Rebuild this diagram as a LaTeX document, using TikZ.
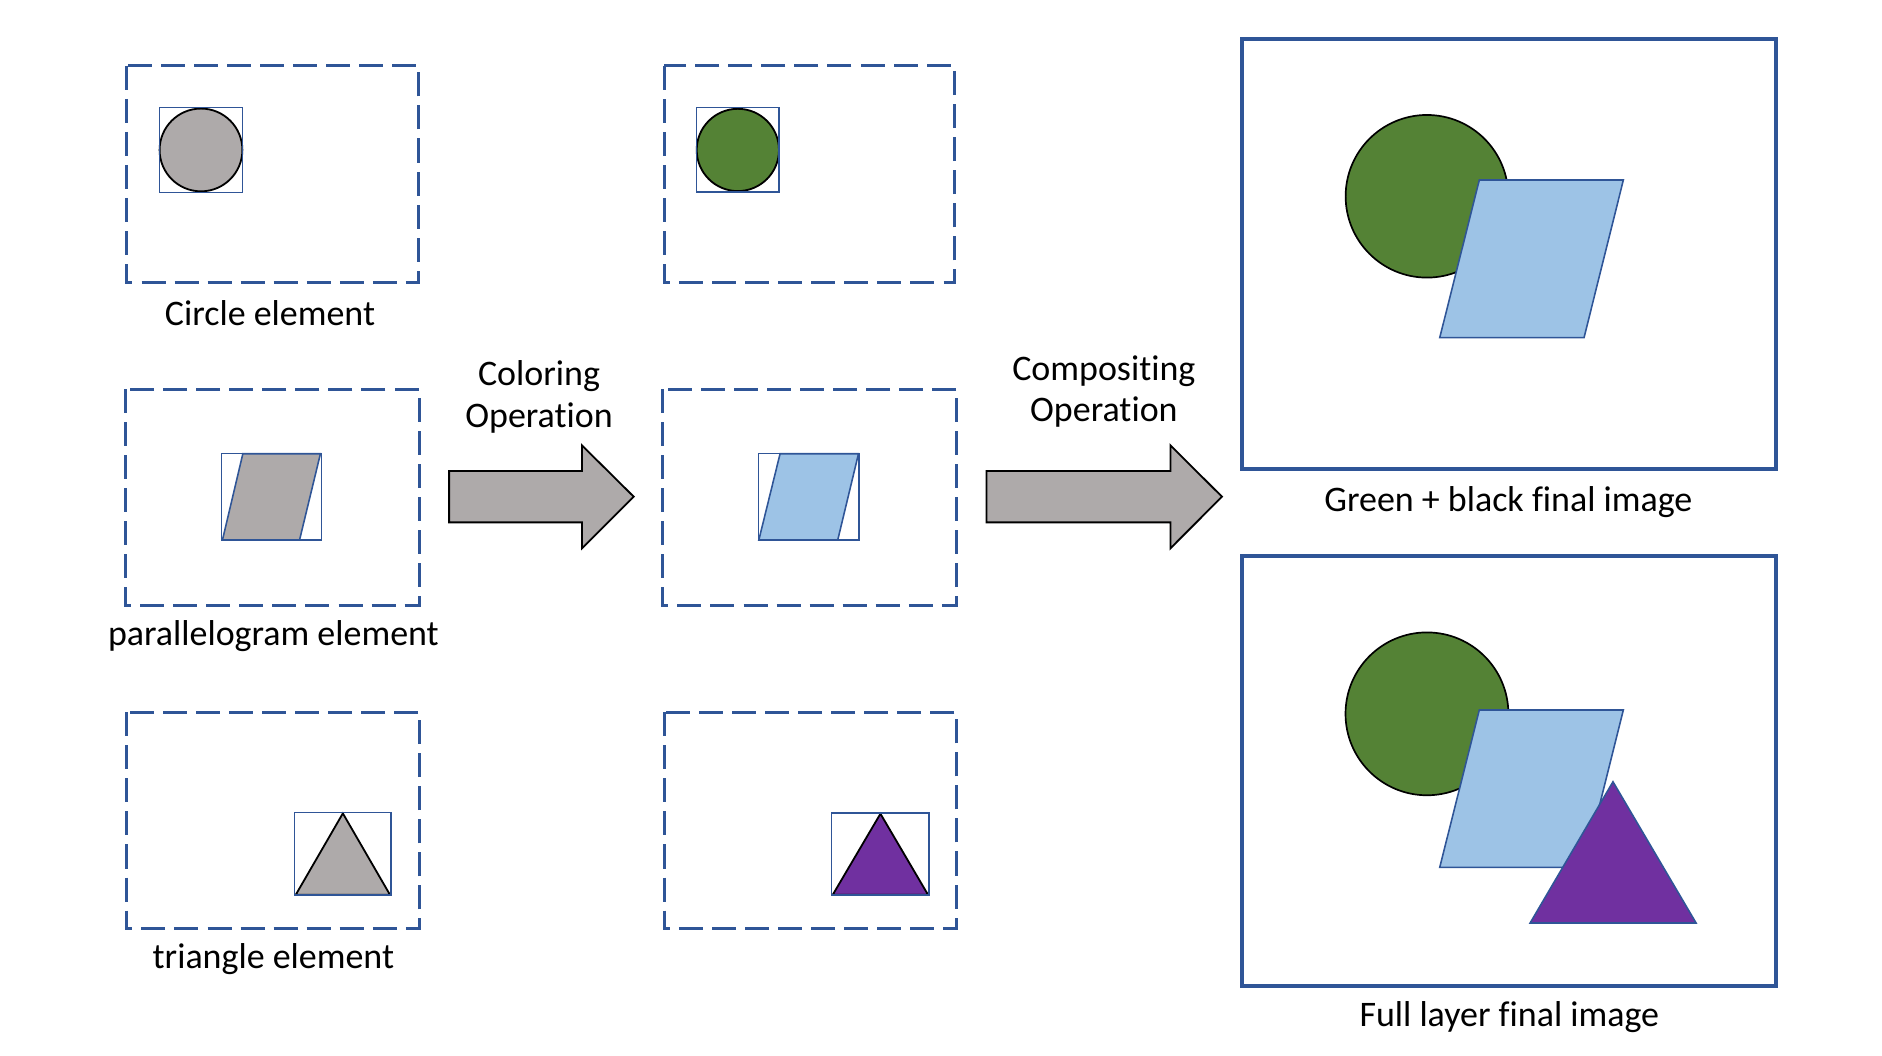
\documentclass[tikz,border=0pt]{standalone}
\usepackage{fontspec}
\setmainfont{Carlito}[Ligatures={NoCommon,NoRare},Contextuals=NoAlternate]
\definecolor{bl}{RGB}{47,85,151}
\definecolor{grayf}{RGB}{174,170,170}
\definecolor{greenf}{RGB}{84,130,53}
\definecolor{lbluef}{RGB}{157,195,230}
\definecolor{purplef}{RGB}{112,48,160}
\begin{document}
\begin{tikzpicture}[x=1pt,y=-1pt,
  dbox/.style={draw=bl, line width=2.5pt, dash pattern=on 19.9pt off 7.5pt},
  sbox/.style={draw=bl, line width=1.2pt},
  bigframe/.style={draw=bl, line width=3.3pt},
  lbl/.style={anchor=base, font=\fontsize{29.8}{34.5}\selectfont, inner sep=0pt},
  barrow/.style={draw=black, fill=grayf, line width=1.5pt, line join=miter},
  circ/.style={draw=black, line width=1.5pt},
  para/.style={draw=bl, line width=1.3pt, line join=miter},
  tri/.style={draw=black, line width=1.5pt, line join=miter}]
\useasboundingbox (0,0) rectangle (1560,874.5);

% ---------- left column ----------
\draw[dbox] (105,54.5) rectangle (346.8,234);
\draw[circ, fill=grayf] (166.6,124.3) circle (34.3);
\draw[sbox] (132.4,89.3) rectangle (200.9,159.4);
\node[lbl] (lc1) at (223.8,270) {Circle element};

\draw[dbox] (103.7,322.5) rectangle (347.4,501.8);
\draw[para, fill=grayf] (201.3,376.1) -- (265.6,376.1) -- (248.3,447.6) -- (184.4,447.6) -- cycle;
\draw[sbox] (183.8,376.1) rectangle (266.5,447.6);
\node[lbl] (lc2) at (226.6,534.7) {parallelogram element};

\draw[dbox] (105,590.4) rectangle (347.6,770);
\draw[tri, fill=grayf] (284.2,674.2) -- (323.2,741.6) -- (245.2,741.6) -- cycle;
\draw[sbox] (244.3,673.6) rectangle (324.1,741.9);
\node[lbl] (lc3) at (226.6,802.6) {triangle element};

% ---------- coloring arrow ----------
\draw[barrow] (372.3,390.4) -- (482.4,390.4) -- (482.4,369.2) -- (525.3,411.7)
  -- (482.4,454.5) -- (482.4,433) -- (372.3,433) -- cycle;
\node[lbl] (co1) at (446.8,319.7) {Coloring};
\node[lbl] (co2) at (446.8,354.2) {Operation};

% ---------- middle column ----------
\draw[dbox] (550.4,54.7) rectangle (791.3,234);
\draw[circ, fill=greenf] (611.6,124.3) circle (34.1);
\draw[sbox] (577.5,89.3) rectangle (645.7,159.2);

\draw[dbox] (549,322.5) rectangle (792.9,501.8);
\draw[para, fill=lbluef] (646.6,376.1) -- (711.6,376.1) -- (694.4,447.6) -- (629,447.6) -- cycle;
\draw[sbox] (628.7,376.1) rectangle (712.2,447.6);

\draw[dbox] (550.4,590.4) rectangle (792.7,769.8);
\draw[tri, fill=purplef] (729.8,674.5) -- (769.2,741.6) -- (690.3,741.6) -- cycle;
\draw[sbox] (689.4,673.9) rectangle (770.1,741.9);

% ---------- compositing arrow ----------
\draw[barrow] (817.7,390.4) -- (970.2,390.4) -- (970.2,369.2) -- (1012.9,411.7)
  -- (970.2,454.5) -- (970.2,433) -- (817.7,433) -- cycle;
\node[lbl] (cp1) at (915,315) {Compositing};
\node[lbl] (cp2) at (915,349.5) {Operation};

% ---------- final images ----------
\draw[bigframe] (1029.8,32.3) rectangle (1472.2,388.5);
\draw[circ, fill=greenf, line width=1.4pt] (1182.8,162.7) circle (67.4);
\draw[para, fill=lbluef] (1226.2,149.2) -- (1345.6,149.2) -- (1313,279.9) -- (1193.4,279.9) -- cycle;
\node[lbl] (f1) at (1250.3,424.1) {Green + black final image};

\draw[bigframe] (1029.8,460.6) rectangle (1472.2,817);
\draw[circ, fill=greenf, line width=1.4pt] (1182.8,591.7) circle (67.5);
\draw[para, fill=lbluef] (1226.2,588.5) -- (1345.6,588.5) -- (1313,718.9) -- (1193.4,718.9) -- cycle;
\draw[para, fill=purplef] (1337,648) -- (1405.9,765.1) -- (1268.3,765.1) -- cycle;
\node[lbl] (f2) at (1251.1,851) {Full layer final image};
\end{tikzpicture}
\end{document}
